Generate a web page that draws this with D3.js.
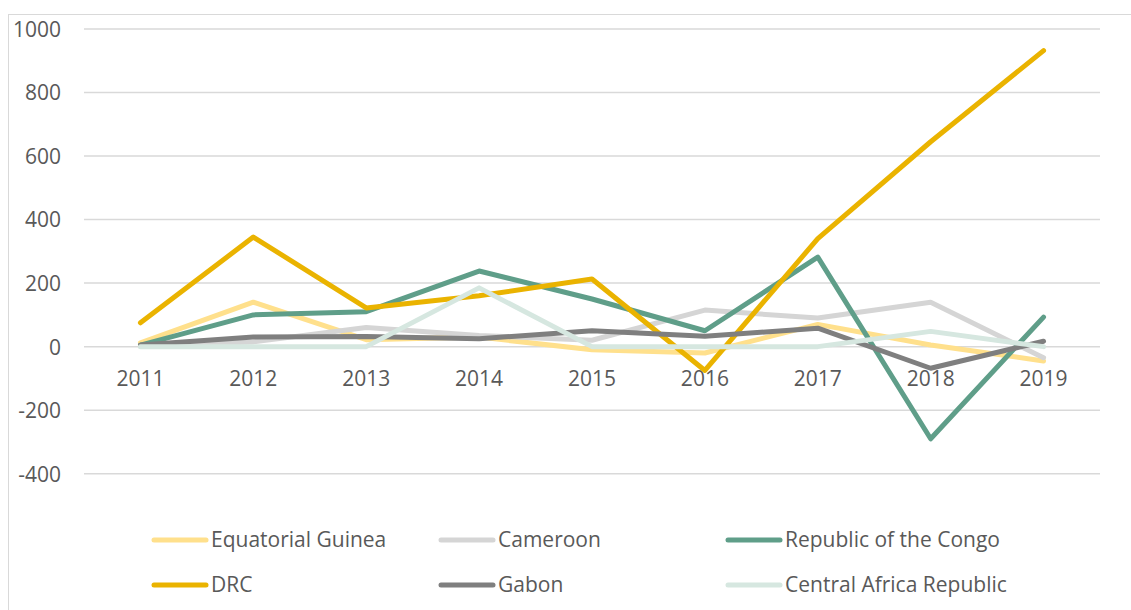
<!DOCTYPE html>
<html>
<head>
<meta charset="utf-8">
<script src="https://cdn.jsdelivr.net/npm/d3@7"></script>
<style>
  html, body { margin: 0; padding: 0; background: #fff; }
  svg { display: block; }
  text { font-family: "Open Sans", sans-serif; fill: #595959; }
</style>
</head>
<body>
<svg id="chart" width="1131" height="610"></svg>
<script>
const years = ["2011","2012","2013","2014","2015","2016","2017","2018","2019"];
const yTicks = [-400, -200, 0, 200, 400, 600, 800, 1000];

const seriesNames = ["Equatorial Guinea","Cameroon","Republic of the Congo","DRC","Gabon","Central Africa Republic"];
const seriesColors = ["#FFE08C","#D5D5D5","#5F9E89","#EAB300","#7F7F7F","#D6E7E0"];

const equatorialGuinea = [12, 140, 22, 30, -10, -20, 70, 5, -45];
const cameroon         = [2, 15, 60, 35, 20, 115, 90, 140, -35];
const congo            = [5, 100, 110, 238, 150, 50, 282, -290, 93];
const drc              = [75, 345, 122, 160, 213, -75, 340, 645, 932];
const gabon            = [5, 30, 32, 25, 50, 33, 58, -68, 17];
const car              = [0, 0, 0, 185, 0, 0, 0, 48, 0];

const seriesValues = [equatorialGuinea, cameroon, congo, drc, gabon, car];

(function () {
const svg = d3.select("#chart");

// outer frame
svg.append("rect")
  .attr("x", 8.5).attr("y", 14.5)
  .attr("width", 1140).attr("height", 620)
  .attr("fill", "none").attr("stroke", "#d9d9d9").attr("stroke-width", 1);

const pLeft = 84, pRight = 1100, pTop = 29, pBottom = 473.7;

const x = d3.scaleBand().domain(years).range([pLeft, pRight]);
const y = d3.scaleLinear().domain([-400, 1000]).range([pBottom, pTop]);

// gridlines
svg.append("g").selectAll("line").data(yTicks).join("line")
  .attr("x1", pLeft).attr("x2", pRight)
  .attr("y1", d => y(d)).attr("y2", d => y(d))
  .attr("stroke", "#d9d9d9").attr("stroke-width", 1.5);

// y axis labels
const yAxis = d3.axisLeft(y).tickValues(yTicks).tickSize(0).tickPadding(0).tickFormat(d => String(d));
const gy = svg.append("g").attr("transform", `translate(61,0)`).call(yAxis);
gy.select(".domain").remove();
gy.selectAll("text")
  .style("font-family", "'Open Sans', sans-serif")
  .style("font-size", "21px").style("fill", "#595959")
  .attr("dy", "0.35em");

// x axis labels near zero line
const xAxis = d3.axisBottom(x).tickSize(0).tickPadding(0);
const gx = svg.append("g").attr("transform", `translate(0,${y(0)})`).call(xAxis);
gx.select(".domain").remove();
gx.selectAll("text")
  .style("font-family", "'Open Sans', sans-serif")
  .style("font-size", "21px").style("fill", "#595959")
  .attr("y", 39).attr("dy", "0");

// lines
const line = d3.line()
  .x((d, i) => x(years[i]) + x.bandwidth() / 2)
  .y(d => y(d));

svg.append("g").selectAll("path").data(seriesValues).join("path")
  .attr("d", d => line(d))
  .attr("fill", "none")
  .attr("stroke", (d, i) => seriesColors[i])
  .attr("stroke-width", 5)
  .attr("stroke-linejoin", "round")
  .attr("stroke-linecap", "round");

// legend
const legendX = [152, 439, 726];
const legendY = [540, 585];
const lg = svg.append("g");
seriesNames.forEach((name, i) => {
  const cx = legendX[i % 3], cy = legendY[Math.floor(i / 3)];
  lg.append("line")
    .attr("x1", cx + 2).attr("x2", cx + 54)
    .attr("y1", cy).attr("y2", cy)
    .attr("stroke", seriesColors[i]).attr("stroke-width", 5)
    .attr("stroke-linecap", "round");
  lg.append("text")
    .attr("x", cx + 59).attr("y", cy)
    .attr("dy", "0.35em")
    .style("font-size", "21px")
    .text(name);
});
})();
</script>
</body>
</html>
